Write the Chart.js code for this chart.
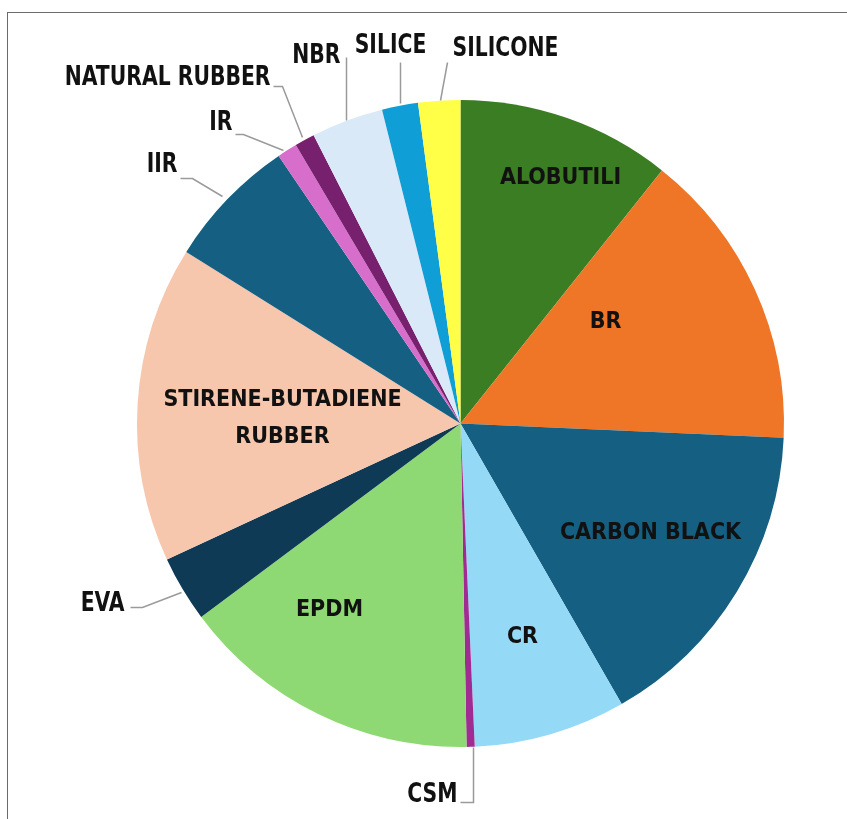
<!doctype html>
<html>
<head>
  <meta charset="utf-8" />
  <title>Mescola</title>
  <script src="https://cdn.jsdelivr.net/npm/chart.js"></script>
  <style>
    html, body { margin: 0; padding: 0; background: #fff; }
    #wrap { position: relative; width: 847px; height: 819px; }
    #frame { position: absolute; left: 7px; top: 12px; right: 0; bottom: 0;
             border-top: 1.5px solid #6b6b6b; border-left: 1.5px solid #6b6b6b; }
    canvas { position: absolute; left: 0; top: 0; }
  </style>
</head>
<body>
  <div id="wrap">
    <div id="frame"></div>
    <canvas id="chart" width="847" height="819"></canvas>
  </div>

  <script>
    // slices, clockwise from 12 o'clock (percent)
    const labels = ["ALOBUTILI", "BR", "CARBON BLACK", "CR", "CSM", "EPDM", "EVA",
                    "STIRENE-BUTADIENE RUBBER", "IIR", "IR", "NATURAL RUBBER", "NBR", "SILICE", "SILICONE"];
    const values = [10.7, 15.0, 16.0, 7.6, 0.4, 15.1, 3.3, 15.8, 6.6, 1.0, 1.0, 3.6, 1.8, 2.1];
    const colors = ["#3b7d23", "#ee7626", "#156082", "#94d9f6", "#a02b93", "#8ed973", "#0e3a55",
                    "#f6c6ad", "#156082", "#d86ecc", "#77206d", "#dae9f8", "#0f9ed5", "#ffff47"];

    // label placement, offsets from pie centre in px
    // inside: text lines at (dx, dy); outside: text + leader polyline
    const labelPos = {
      "ALOBUTILI":     { at: [100, -245] },
      "BR":            { at: [145, -101] },
      "CARBON BLACK":  { at: [190, 110] },
      "CR":            { at: [62, 214] },
      "EPDM":          { at: [-131, 187] },
      "STIRENE-BUTADIENE RUBBER": { lines: ["STIRENE-BUTADIENE", "RUBBER"], at: [-178, -5], lh: 37 },
      "CSM":           { out: true, align: "right", at: [-3, 372], line: [[0, 379], [13, 379], [13, 324]] },
      "EVA":           { out: true, align: "right", at: [-336, 181], line: [[-330, 184], [-318, 184], [-279, 169]] },
      "IIR":           { out: true, align: "right", at: [-283, -258], line: [[-280, -245], [-268, -245], [-238, -227]] },
      "IR":            { out: true, align: "right", at: [-228, -300], line: [[-225, -289], [-217, -289], [-177, -273]] },
      "NATURAL RUBBER":{ out: true, align: "right", at: [-190, -345], line: [[-187, -337], [-178, -337], [-158, -286]] },
      "NBR":           { out: true, align: "right", at: [-120, -367], line: [[-114, -366], [-114, -303]] },
      "SILICE":        { out: true, align: "center", at: [-70, -377], line: [[-60, -361], [-60, -320]] },
      "SILICONE":      { out: true, align: "left", at: [-8, -374], line: [[-13, -361], [-20, -323]] }
    };

    const labelPlugin = {
      id: "sliceLabels",
      afterDatasetsDraw(chart) {
        const ctx = chart.ctx;
        const arc0 = chart.getDatasetMeta(0).data[0];
        const cx = arc0.x, cy = arc0.y;
        ctx.save();
        ctx.textBaseline = "middle";
        labels.forEach(name => {
          const p = labelPos[name];
          if (!p) return;
          if (p.out) {
            ctx.strokeStyle = "#9a9a9a";
            ctx.lineWidth = 1.5;
            ctx.beginPath();
            p.line.forEach((pt, i) => {
              if (i === 0) ctx.moveTo(cx + pt[0], cy + pt[1]);
              else ctx.lineTo(cx + pt[0], cy + pt[1]);
            });
            ctx.stroke();
            // narrow look: squeeze the condensed face a bit more
            ctx.save();
            ctx.translate(cx + p.at[0], cy + p.at[1]);
            ctx.scale(0.87, 1);
            ctx.fillStyle = "#111";
            ctx.font = "bold 26px 'DejaVu Sans Condensed', sans-serif";
            ctx.textAlign = p.align;
            ctx.fillText(name, 0, 0);
            ctx.restore();
          } else {
            ctx.fillStyle = "#111";
            ctx.font = "bold 23px 'DejaVu Sans Condensed', 'DejaVu Sans', sans-serif";
            ctx.textAlign = "center";
            const lines = p.lines || [name];
            const lh = p.lh || 0;
            lines.forEach((t, i) => {
              ctx.fillText(t, cx + p.at[0], cy + p.at[1] + (i - (lines.length - 1) / 2) * lh);
            });
          }
        });
        ctx.restore();
      }
    };

    new Chart(document.getElementById("chart").getContext("2d"), {
      type: "pie",
      data: {
        labels,
        datasets: [{ data: values, backgroundColor: colors, borderWidth: 0, hoverOffset: 0 }]
      },
      options: {
        responsive: false,
        animation: false,
        layout: { padding: { left: 137, right: 63, top: 100, bottom: 72 } },
        plugins: { legend: { display: false }, tooltip: { enabled: false } }
      },
      plugins: [labelPlugin]
    });
  </script>
</body>
</html>
